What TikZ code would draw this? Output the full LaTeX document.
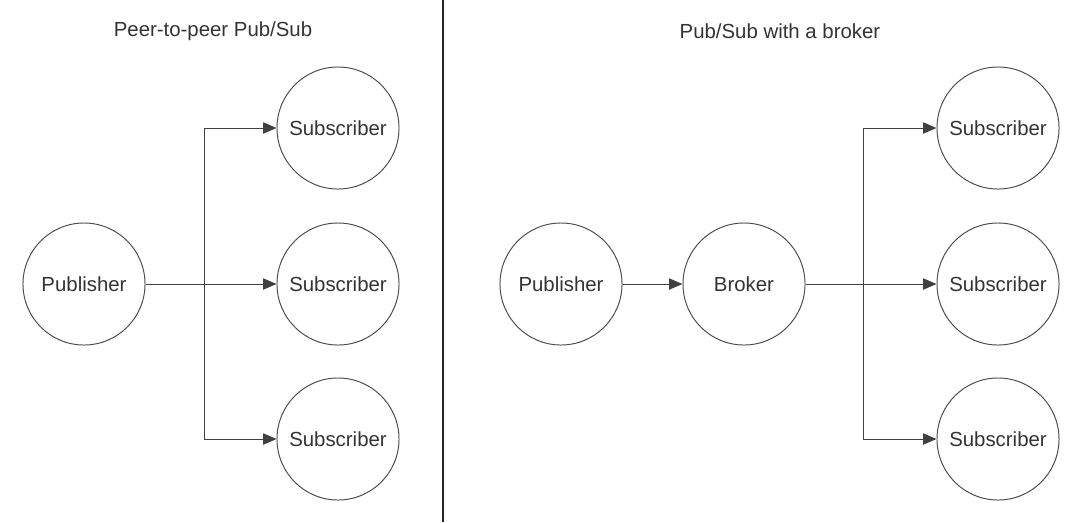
\documentclass[tikz,border=0pt]{standalone}
\usepackage{fontspec}
\setmainfont{Liberation Sans}
\usepackage{tikz}
\usetikzlibrary{arrows.meta}

\begin{document}
\begin{tikzpicture}[x=0.025cm,y=-0.025cm,
    font=\fontsize{14.5}{17}\selectfont,
    peer/.style={circle,draw=black!70,line width=0.7pt,minimum size=3.05cm,inner sep=0pt,text=black!80},
    flow/.style={draw=black!75,line width=0.7pt,-{Triangle[length=9.5pt,width=8pt]}},
    title/.style={text=black!80}]
  \useasboundingbox (0,0) rectangle (1086,522);
  % peer-to-peer side
  \node[title] (titleA) at (213,31) {Peer-to-peer Pub/Sub};
  \node[peer] (pubA) at (84,284) {Publisher};
  \node[peer] (subA1) at (338,128) {Subscriber};
  \node[peer] (subA2) at (338,284) {Subscriber};
  \node[peer] (subA3) at (338,439) {Subscriber};
  \coordinate (jA) at (204,284);
  \draw[flow] (pubA) -- (subA2);
  \draw[flow] (jA) |- (subA1.west);
  \draw[flow] (jA) |- (subA3.west);
  % divider
  \draw[black!85,line width=1.5pt] (443,0) -- (443,522);
  % broker side
  \node[title] (titleB) at (780,31) {Pub/Sub with a broker};
  \node[peer] (pubB) at (561,284) {Publisher};
  \node[peer] (broker) at (744,284) {Broker};
  \node[peer] (subB1) at (998,128) {Subscriber};
  \node[peer] (subB2) at (998,284) {Subscriber};
  \node[peer] (subB3) at (998,439) {Subscriber};
  \coordinate (jB) at (863,284);
  \draw[flow] (pubB) -- (broker);
  \draw[flow] (broker) -- (subB2);
  \draw[flow] (jB) |- (subB1.west);
  \draw[flow] (jB) |- (subB3.west);
\end{tikzpicture}
\end{document}
